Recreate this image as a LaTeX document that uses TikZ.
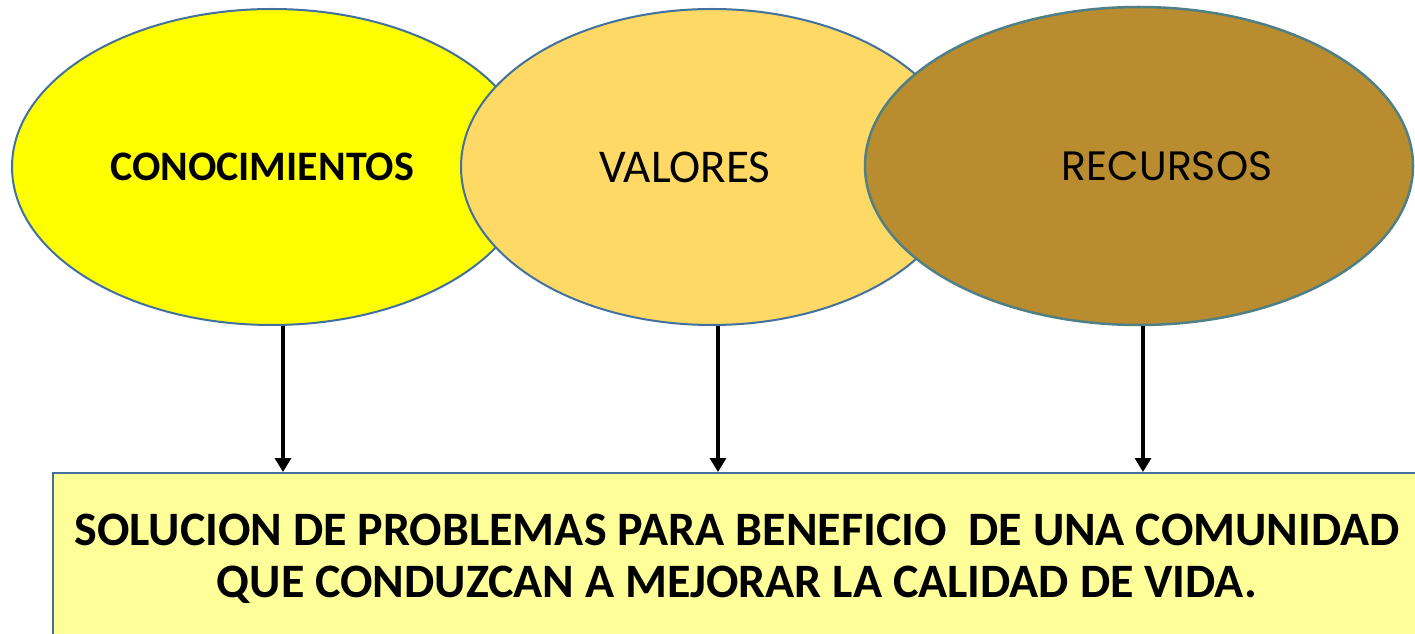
\documentclass[tikz,border=0pt]{standalone}
\usepackage{fontspec}
\setmainfont{Carlito}
\newfontfamily\gothfont{Poppins}
\usetikzlibrary{shapes.geometric,arrows.meta}

\definecolor{ovalLine}{HTML}{41719C}
\definecolor{recurLine}{HTML}{4F8086}
\definecolor{conocFill}{HTML}{FFFF00}
\definecolor{valorFill}{HTML}{FFD966}
\definecolor{recurFill}{HTML}{B98D2F}
\definecolor{boxFill}{HTML}{FFFF99}

\begin{document}
\begin{tikzpicture}
[x=1pt,y=1pt,
  ovalDecorate/.style={shape=ellipse,inner sep=0pt,draw=ovalLine,line width=2pt},%
  boxDecorate/.style={shape=rectangle,draw=ovalLine,line width=2pt,fill=boxFill,
    inner sep=0pt,align=center,font=\bfseries\fontsize{48}{52}\selectfont},
  lineDecorate/.style={-{Triangle[width=16pt,length=14pt]},line width=3.2pt,black}]
\useasboundingbox (0,0) rectangle (1415,633);
\fill[white] (0,0) rectangle (1415,633);
%% ovals
\node (conoc) at (272,466) [ovalDecorate,fill=conocFill,minimum width=520pt,minimum height=316pt,
  label={[font=\bfseries\fontsize{42}{48}\selectfont,xshift=-10pt]center:CONOCIMIENTOS}] {};
\node (valor) at (712,466) [ovalDecorate,fill=valorFill,minimum width=502pt,minimum height=316pt,
  label={[font=\fontsize{47}{54}\selectfont,xshift=-27pt]center:VALORES}] {};
\node (recur) at (1139,467) [ovalDecorate,draw=recurLine,line width=2.5pt,fill=recurFill,
  minimum width=548pt,minimum height=318pt,
  label={[font=\gothfont\fontsize{41}{48}\selectfont,xshift=28pt]center:RECURSOS}] {};
%% result box
\node (sol) at (52,161) [boxDecorate,anchor=north west,minimum width=1368pt,minimum height=171pt]
  {SOLUCION DE PROBLEMAS PARA BENEFICIO \ DE UNA COMUNIDAD\\QUE CONDUZCAN A MEJORAR LA CALIDAD DE VIDA.};
%% arrows
\foreach \startnode/\dx in {conoc/11, valor/6, recur/4} {
  \draw[lineDecorate] ([xshift=\dx pt]\startnode.south) -- ([xshift=\dx pt]\startnode.south |- sol.north);
}
\end{tikzpicture}
\end{document}
